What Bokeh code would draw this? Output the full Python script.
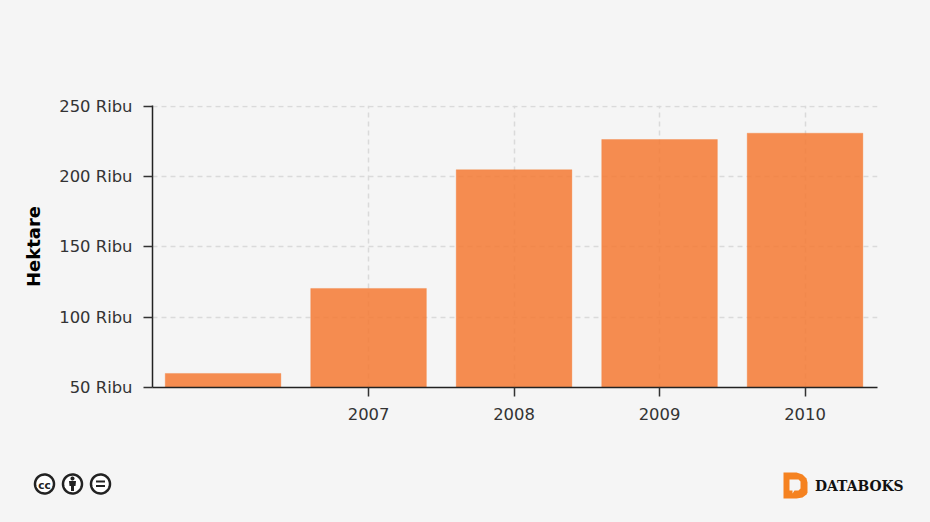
import numpy as np
from bokeh.embed import file_html
from bokeh.resources import INLINE
from bokeh.plotting import figure
from bokeh.models import ColumnDataSource, FixedTicker, Range1d
from bokeh.core.properties import value

years = [2006, 2007, 2008, 2009, 2010]
labelled_years = [2007, 2008, 2009, 2010]
hectares = [60, 120.5, 205, 226.5, 231]
y_ticks = [50, 100, 150, 200, 250]
y_labels = ["50 Ribu", "100 Ribu", "150 Ribu", "200 Ribu", "250 Ribu"]
y_title = "Hektare"
brand = "DATABOKS"

BG = "#f5f5f5"
FONT = "DejaVu Sans"
DARK = "#222222"
CHART_H = 435

p = figure(width=930, height=CHART_H, output_backend="svg", toolbar_location=None,
           x_range=Range1d(2005.515, 2010.498), y_range=Range1d(50, 250.7),
           background_fill_color=BG, border_fill_color=BG, outline_line_color=None,
           min_border_left=152, min_border_right=53, min_border_top=105, min_border_bottom=48)
p.frame_width = 725
p.frame_height = 282

src = ColumnDataSource(dict(x=years, top=hectares))
p.vbar(x="x", top="top", bottom=50, width=0.795, source=src,
       fill_color="#f57933", fill_alpha=0.85, line_color="#f57933", line_alpha=0.3)

xa, ya = p.xaxis[0], p.yaxis[0]
xa.ticker = FixedTicker(ticks=labelled_years)
ya.ticker = FixedTicker(ticks=y_ticks)
ya.major_label_overrides = dict(zip(y_ticks, y_labels))
for a in (xa, ya):
    a.major_label_text_font = FONT
    a.major_label_text_font_size = "16.4px"
    a.major_label_text_color = "#333333"
    a.minor_tick_line_color = None
    a.major_tick_in = 0
    a.major_tick_out = 9
    a.major_tick_line_color = "#333333"
    a.major_tick_line_width = 1.5
    a.axis_line_color = DARK
    a.axis_line_width = 1.5
xa.major_label_standoff = 11
ya.major_label_standoff = 11
ya.axis_label = y_title
ya.axis_label_text_font = FONT
ya.axis_label_text_font_size = "18px"
ya.axis_label_text_font_style = "bold"
ya.axis_label_text_color = "#000000"
ya.axis_label_standoff = 12

for g in (p.xgrid[0], p.ygrid[0]):
    g.grid_line_color = "#dadada"
    g.grid_line_dash = "5 4"
    g.grid_line_width = 1.5
p.xgrid[0].ticker = FixedTicker(ticks=labelled_years)
p.ygrid[0].ticker = FixedTicker(ticks=y_ticks)

# Footer strip: its ranges are the page's own pixels, so the badges can be placed directly.
f = figure(width=930, height=522 - CHART_H, output_backend="svg", toolbar_location=None,
           x_range=Range1d(0, 930), y_range=Range1d(522, CHART_H),
           x_axis_type=None, y_axis_type=None,
           background_fill_color=BG, border_fill_color=BG, outline_line_color=None,
           min_border=0)
f.grid.visible = False

t = np.linspace(0, 2 * np.pi, 48)
for cx in (44, 72, 100):
    f.patch(cx + 9.5 * np.cos(t), 483.5 + 9.5 * np.sin(t), fill_color="#ffffff", line_color=DARK, line_width=2.5)
f.text([44], [484], text=["cc"], text_font=value(FONT), text_font_size="10.5px", text_font_style="bold",
       text_color=DARK, text_align="center", text_baseline="middle")
f.patch(72 + 2 * np.cos(t), 478 + 2 * np.sin(t), fill_color=DARK, line_color=None)
f.patch([68.5, 75.5, 75, 73.5, 73.5, 70.5, 70.5, 69], [480.5, 480.5, 485.5, 485.5, 490.5, 490.5, 485.5, 485.5],
        fill_color=DARK, line_color=None)
f.quad(left=[95.5, 95.5], right=[104.5, 104.5], top=[480, 484.5], bottom=[482, 486.5], fill_color=DARK, line_color=None)

f.patch([783, 796, 802, 806, 807, 807, 806, 802, 796, 783],
        [472, 472, 474, 478, 482, 492, 494, 497, 498, 498], fill_color="#f58220", line_color=None)
f.patch([789, 798, 800, 800, 798, 794, 792, 792, 789],
        [479, 479, 481, 488, 490, 490, 493, 490, 490], fill_color=BG, line_color=None)
f.text([814.5], [485.5], text=[brand], text_font=value("DejaVu Serif"), text_font_size="13.9px",
       text_font_style="bold", text_color="#111111", text_align="left", text_baseline="middle")

html = file_html((p, f), INLINE).replace("<head>", "<head><style>html,body{background:%s}</style>" % BG, 1)
open("out.html", "w").write(html)
